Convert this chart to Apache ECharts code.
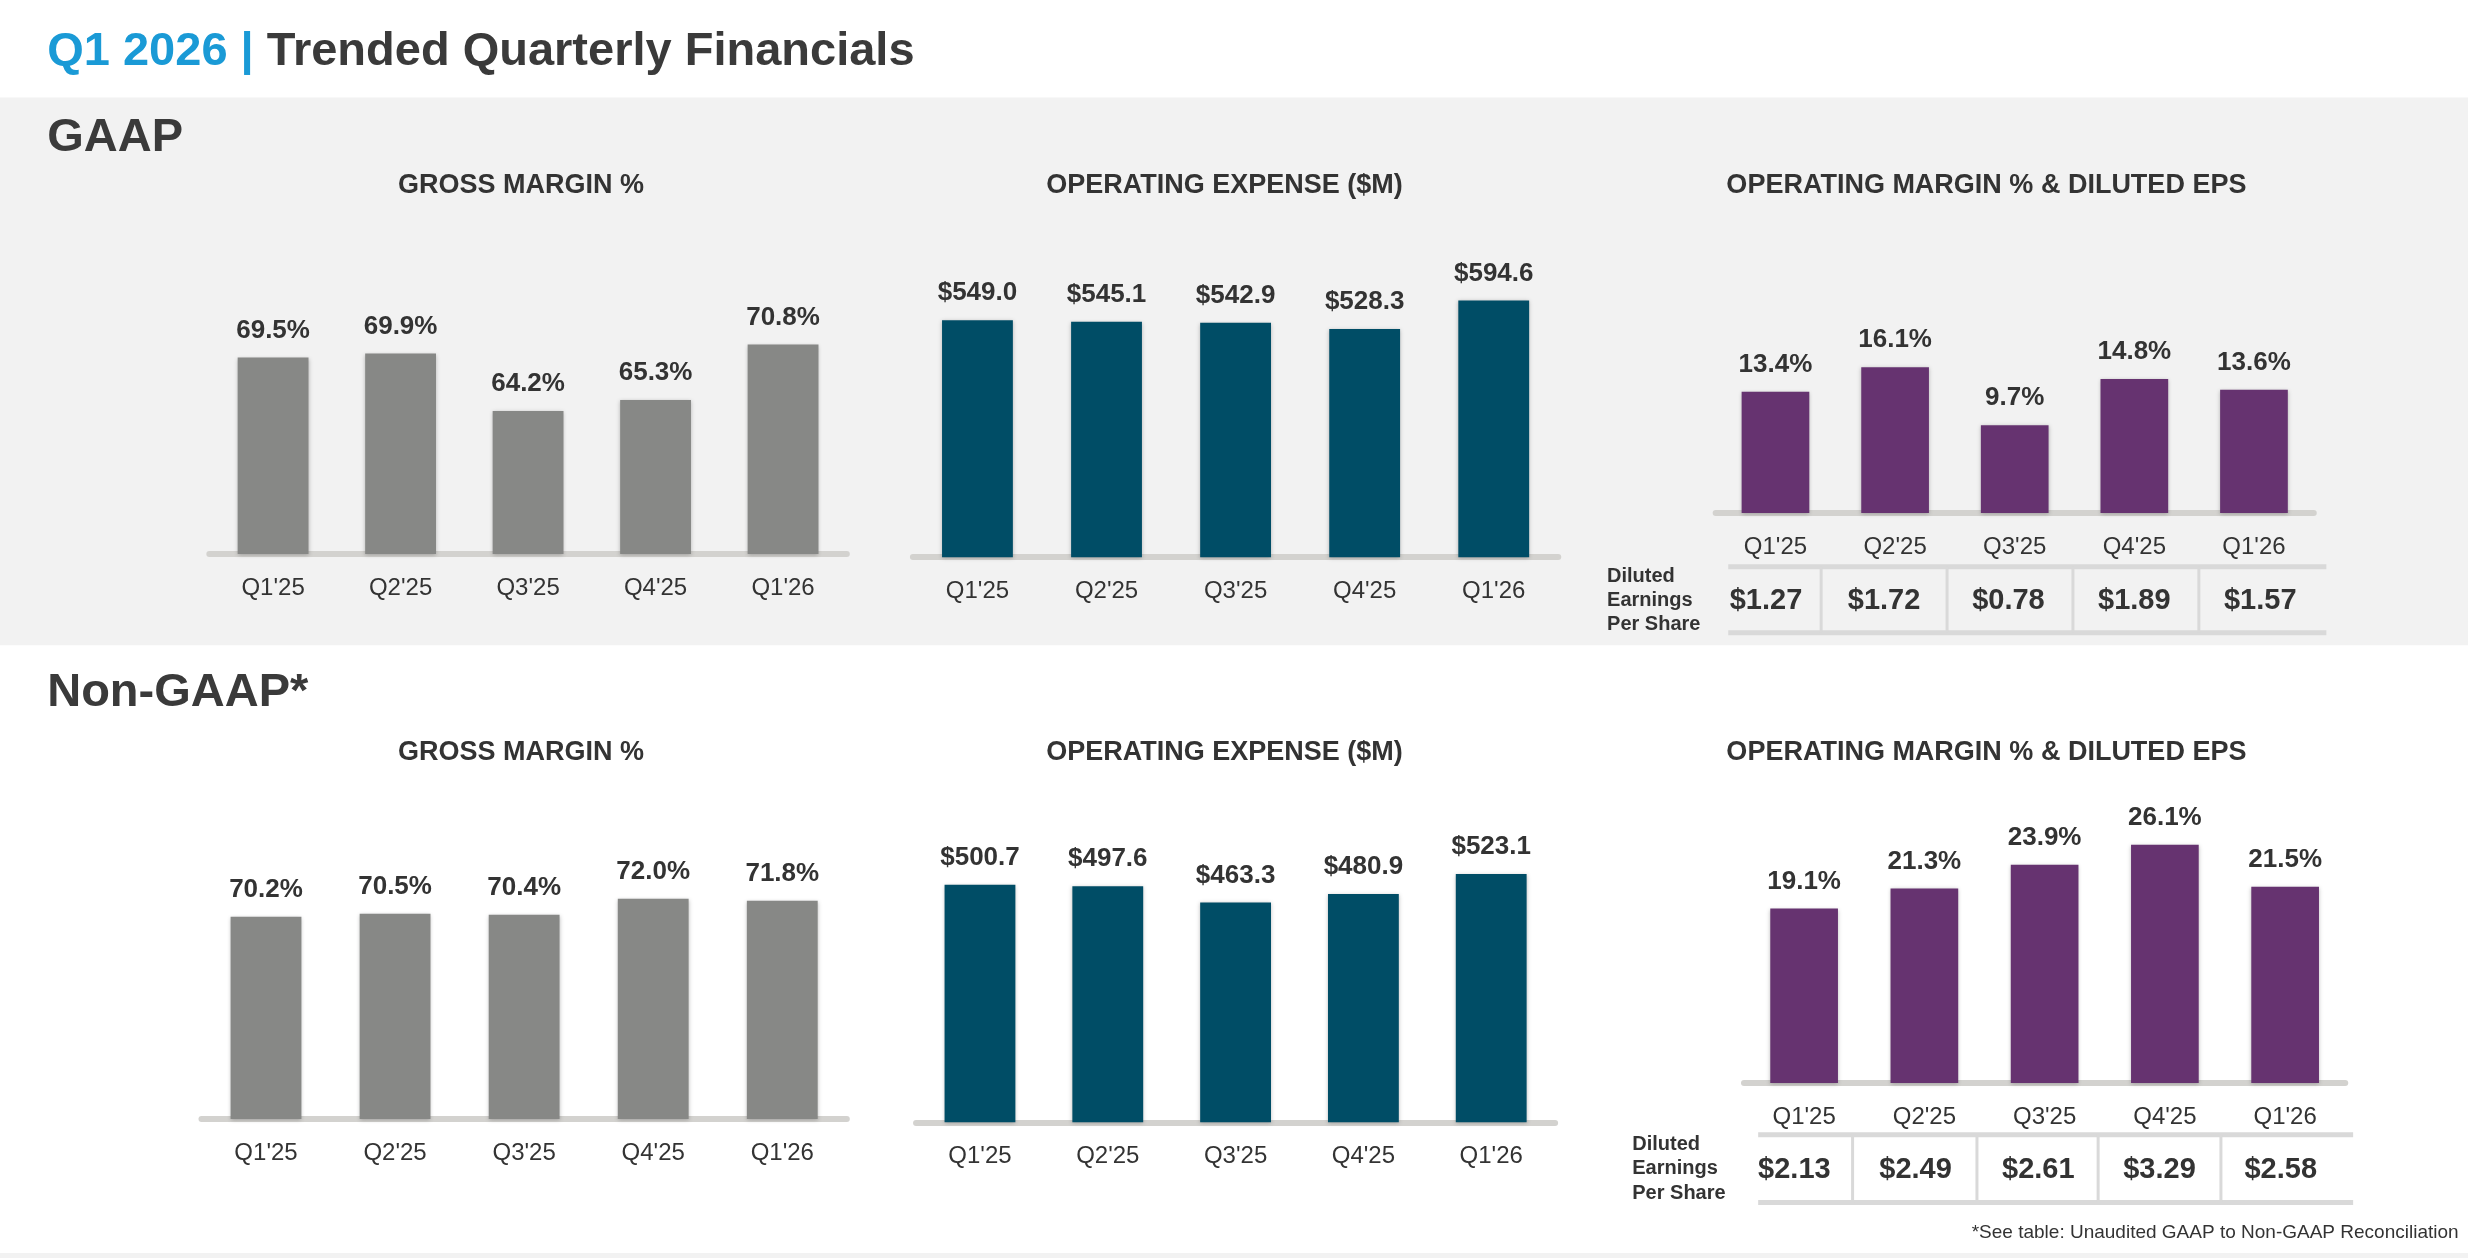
<!DOCTYPE html>
<html><head><meta charset="utf-8">
<script src="https://cdn.jsdelivr.net/npm/echarts@6/dist/echarts.min.js"></script>
<style>html,body{margin:0;padding:0;background:#fff}#c{width:2468px;height:1258px}</style>
</head><body><div id="c"></div>
<script>
const categories = ["Q1'25","Q2'25","Q3'25","Q4'25","Q1'26"];
const gaapGrossMargin = [69.5, 69.9, 64.2, 65.3, 70.8];
const gaapOpex = [549.0, 545.1, 542.9, 528.3, 594.6];
const gaapOpMargin = [13.4, 16.1, 9.7, 14.8, 13.6];
const gaapEPS = ["$1.27","$1.72","$0.78","$1.89","$1.57"];
const ngGrossMargin = [70.2, 70.5, 70.4, 72.0, 71.8];
const ngOpex = [500.7, 497.6, 463.3, 480.9, 523.1];
const ngOpMargin = [19.1, 21.3, 23.9, 26.1, 21.5];
const ngEPS = ["$2.13","$2.49","$2.61","$3.29","$2.58"];

const S = 1.574;
const F = "'Liberation Sans', Arial, sans-serif";
const chart = echarts.init(document.getElementById('c'));

// panels: [left, right, top, baseline, min, max, data, color, fmt, barW]
const panels = [
  [133,538,160,352,50,80,gaapGrossMargin,'#878886',v=>v.toFixed(1)+'%',45],
  [580,990,162,354,0,700,gaapOpex,'#004d66',v=>'$'+v.toFixed(1),45],
  [1090,1470,182,326,0,25,gaapOpMargin,'#663370',v=>v.toFixed(1)+'%',43],
  [128,538,520,711,50,80,ngGrossMargin,'#878886',v=>v.toFixed(1)+'%',45],
  [582,988,502,713,0,700,ngOpex,'#004d66',v=>'$'+v.toFixed(1),45],
  [1108,1490,514,688,0,30,ngOpMargin,'#663370',v=>v.toFixed(1)+'%',43]
];
const grids=[],xAxes=[],yAxes=[],series=[];
panels.forEach((p,i)=>{
  grids.push({left:p[0]*S,width:(p[1]-p[0])*S,top:p[2]*S,height:(p[3]-p[2])*S});
  xAxes.push({type:'category',gridIndex:i,data:categories,
    axisLine:{lineStyle:{color:'#d3d2cf',width:6}},axisTick:{show:false},
    axisLabel:{color:'#333',fontFamily:F,fontSize:24,margin:22}});
  yAxes.push({type:'value',gridIndex:i,min:p[4],max:p[5],show:false,splitLine:{show:false}});
  series.push({type:'bar',xAxisIndex:i,yAxisIndex:i,data:p[6],barWidth:p[9]*S,
    itemStyle:{color:p[7],shadowBlur:4,shadowColor:'rgba(0,0,0,0.25)',shadowOffsetY:1},
    label:{show:true,position:'top',distance:14,formatter:o=>p[8](o.value),
      color:'#333',fontFamily:F,fontWeight:'bold',fontSize:26}});
});

const g=[];
function txt(x,y,t,size,color,weight,align){
  g.push({type:'text',x:x*S,y:y*S,style:{text:t,fontFamily:F,fontSize:size,fill:color,
    fontWeight:weight||'bold',align:align||'left',verticalAlign:'middle'}});
}
g.push({type:'rect',shape:{x:0,y:62*S,width:2468,height:348*S},style:{fill:'#f2f2f2'},z:-10});
g.push({type:'rect',shape:{x:0,y:796*S,width:2468,height:4*S},style:{fill:'#f2f2f2'},z:-10});
g.push({type:'text',x:30*S,y:33*S,style:{rich:{a:{fill:'#1a9ad6',fontFamily:F,fontWeight:'bold',fontSize:47},
  b:{fill:'#3a3a3a',fontFamily:F,fontWeight:'bold',fontSize:47}},text:'{a|Q1 2026 | }{b|Trended Quarterly Financials}',verticalAlign:'middle'}});
txt(30,88,'GAAP',47,'#3a3a3a');
txt(30,440,'Non-GAAP*',47,'#3a3a3a');
[[331,118],[778,118],[1262,118],[331,478],[778,478],[1262,478]].forEach((c,i)=>{
  txt(c[0],c[1],['GROSS MARGIN %','OPERATING EXPENSE ($M)','OPERATING MARGIN % & DILUTED EPS'][i%3],27,'#333','bold','center');
});
function table(x0,x1,y0,y1,centers,seps,vals,lx,ly){
  [y0,y1].forEach(y=>g.push({type:'line',shape:{x1:x0*S,y1:y*S,x2:x1*S,y2:y*S},style:{stroke:'#d9d9d9',lineWidth:5}}));
  seps.forEach(x=>g.push({type:'line',shape:{x1:x*S,y1:y0*S,x2:x*S,y2:y1*S},style:{stroke:'#d9d9d9',lineWidth:3}}));
  vals.forEach((v,i)=>txt(centers[i],(y0+y1)/2+1,v,29,'#333','bold','center'));
  ['Diluted','Earnings','Per Share'].forEach((t,i)=>txt(lx,ly+i*15.5,t,20,'#333','bold'));
}
table(1098,1478,360,402,[1122,1197,1276,1356,1436],[1157,1237,1317,1397],gaapEPS,1021,366);
table(1117,1495,721,764,[1140,1217,1295,1372,1449],[1177,1256,1333,1411],ngEPS,1037,727);
txt(1562,783,'*See table: Unaudited GAAP to Non-GAAP Reconciliation',19,'#333','normal','right');

chart.setOption({animation:false,grid:grids,xAxis:xAxes,yAxis:yAxes,series:series,graphic:g});
</script></body></html>
